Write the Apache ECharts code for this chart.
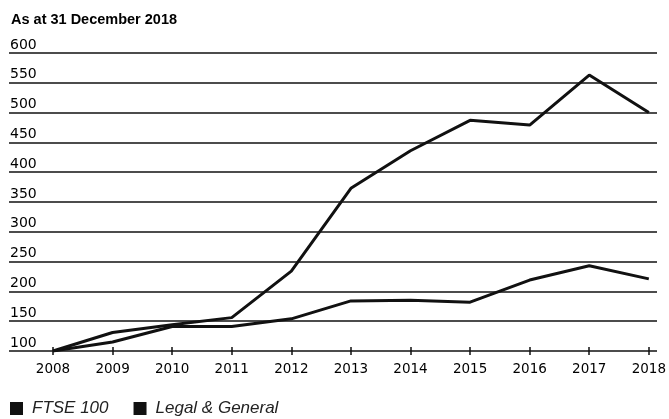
<!DOCTYPE html>
<html>
<head>
<meta charset="utf-8">
<script src="https://cdn.jsdelivr.net/npm/echarts@6/dist/echarts.min.js"></script>
<style>
  html, body { margin: 0; padding: 0; background: #fff; }
  #tsrChart { width: 669px; height: 419px; }
</style>
</head>
<body>
<div id="tsrChart"></div>
<script>
// total shareholder return, rebased to 100 at 2008
const years = [2008, 2009, 2010, 2011, 2012, 2013, 2014, 2015, 2016, 2017, 2018]
const ftse100 = [100, 115, 141, 141, 154, 184, 185, 182, 219, 243, 221]
const legalGeneral = [100, 131, 144, 156, 234, 373, 436, 487, 479, 563, 500]
const yTicks = [100, 150, 200, 250, 300, 350, 400, 450, 500, 550, 600]

const font = '"Liberation Sans", Arial, sans-serif'
const tickFont = '"DejaVu Sans", sans-serif'
const charts = echarts.init(document.getElementById('tsrChart'))

const pairs = arr => years.map((y, i) => [y, arr[i]])

const option = {
  animation: false,
  textStyle: { fontFamily: font },
  title: {
    text: 'As at 31 December 2018',
    left: 11,
    top: 12,
    padding: 0,
    textStyle: { fontSize: 14.5, fontWeight: 'bold', color: '#000', fontFamily: font }
  },
  legend: {
    left: 10,
    top: 400,
    padding: 0,
    icon: 'rect',
    itemWidth: 13,
    itemHeight: 13,
    itemGap: 25,
    data: ['FTSE 100', 'Legal & General'],
    textStyle: { fontSize: 17, fontStyle: 'italic', color: '#222', fontFamily: font, padding: [0, 0, 0, 4] }
  },
  grid: [
    // background grid for gridlines and y labels (full width)
    { left: 9, right: 12, top: 53, bottom: 68 },
    // data grid
    { left: 53, right: 19, top: 53, bottom: 68 }
  ],
  xAxis: [
    { gridIndex: 0, type: 'value', min: 0, max: 1, show: false },
    {
      gridIndex: 1,
      type: 'value',
      min: years[0],
      max: years[years.length - 1],
      interval: 1,
      axisLine: { show: false },
      axisTick: { show: true, inside: false, length: 4, lineStyle: { color: '#111', width: 1.5 } },
      splitLine: { show: false },
      axisLabel: {
        formatter: v => String(v),
        color: '#000',
        fontSize: 13.5,
        margin: 11,
        fontFamily: tickFont
      }
    },
    {
      gridIndex: 1,
      type: 'value',
      position: 'bottom',
      min: years[0],
      max: years[years.length - 1],
      interval: 1,
      axisLine: { show: false },
      axisTick: { show: true, inside: true, length: 4, lineStyle: { color: '#111', width: 1.5 } },
      splitLine: { show: false },
      axisLabel: { show: false }
    }
  ],
  yAxis: [
    {
      gridIndex: 0,
      type: 'value',
      min: yTicks[0],
      max: yTicks[yTicks.length - 1],
      interval: 50,
      axisLine: { show: false },
      axisTick: { show: false },
      splitLine: { show: true, lineStyle: { color: '#111', width: 1.5 } },
      axisLabel: {
        inside: true,
        margin: 1,
        verticalAlign: 'bottom',
        padding: [0, 0, 1, 0],
        color: '#000',
        fontSize: 14,
        fontFamily: tickFont
      }
    },
    {
      gridIndex: 1,
      type: 'value',
      min: yTicks[0],
      max: yTicks[yTicks.length - 1],
      interval: 50,
      show: false
    }
  ],
  series: [
    {
      name: 'FTSE 100',
      type: 'line',
      xAxisIndex: 1,
      yAxisIndex: 1,
      data: pairs(ftse100),
      symbol: 'none',
      color: '#111',
      lineStyle: { color: '#111', width: 3 },
      z: 3
    },
    {
      name: 'Legal & General',
      type: 'line',
      xAxisIndex: 1,
      yAxisIndex: 1,
      data: pairs(legalGeneral),
      symbol: 'none',
      color: '#111',
      lineStyle: { color: '#111', width: 3 },
      z: 3
    }
  ]
}

charts.clear()
charts.setOption(option)
</script>
</body>
</html>
